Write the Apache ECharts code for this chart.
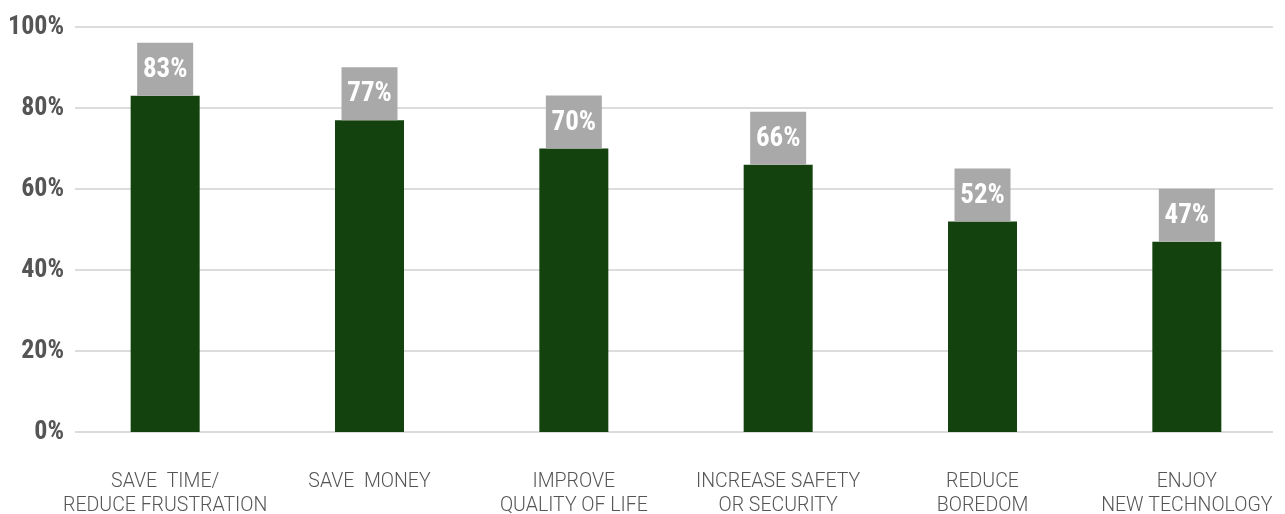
<!DOCTYPE html>
<html>
<head>
<meta charset="utf-8">
<script src="https://cdn.jsdelivr.net/npm/echarts@6/dist/echarts.min.js"></script>
<style>
  html, body { margin: 0; padding: 0; background: #fff; }
  #chart { width: 1285px; height: 514px; }
</style>
</head>
<body>
<div id="chart"></div>
<script>
// chart data
const categories = [
    "SAVE  TIME/\nREDUCE FRUSTRATION",
    "SAVE  MONEY",
    "IMPROVE\nQUALITY OF LIFE",
    "INCREASE SAFETY\nOR SECURITY",
    "REDUCE\nBOREDOM",
    "ENJOY\nNEW TECHNOLOGY"
];
const shares = [83, 77, 70, 66, 52, 47];
const yTicks = [0, 20, 40, 60, 80, 100];

const narrowFont = "'Liberation Sans Narrow', 'Roboto Condensed', 'Liberation Sans', sans-serif";

const chart = echarts.init(document.getElementById("chart"));

const gridTop = 27;
const gridBottom = 82;

const option = {
    animation: false,
    grid: [
        // grid for the y axis and the gridlines
        { left: 75, right: 12, top: gridTop, bottom: gridBottom, outerBoundsMode: "none" },
        // grid for the bars (categories run a bit wider than the lines)
        { left: 63, right: -4, top: gridTop, bottom: gridBottom, outerBoundsMode: "none" }
    ],
    xAxis: [
        { type: "category", gridIndex: 0, data: categories, show: false },
        {
            type: "category",
            gridIndex: 1,
            data: categories,
            axisLine: { show: false },
            axisTick: { show: false },
            axisLabel: {
                interval: 0,
                margin: 38,
                color: "#555",
                fontFamily: "Roboto",
                fontWeight: 300,
                fontSize: 19.5,
                lineHeight: 24
            }
        }
    ],
    yAxis: [
        {
            type: "value",
            gridIndex: 0,
            min: yTicks[0],
            max: yTicks[yTicks.length - 1],
            interval: 20,
            axisLine: { show: false },
            axisTick: { show: false },
            splitLine: { lineStyle: { color: "#dcdcdc", width: 2 } },
            axisLabel: {
                margin: 11,
                formatter: "{value}%",
                color: "#555",
                fontFamily: narrowFont,
                fontWeight: "bold",
                fontSize: 26
            }
        },
        {
            type: "value",
            gridIndex: 1,
            min: 0,
            max: 100,
            interval: 20,
            show: false
        }
    ],
    series: [
        {
            type: "bar",
            xAxisIndex: 1,
            yAxisIndex: 1,
            data: shares,
            barWidth: 69,
            itemStyle: { color: "#14420f" },
            label: {
                show: true,
                position: "top",
                distance: 0,
                formatter: "{c}%",
                color: "#fff",
                fontFamily: narrowFont,
                fontWeight: "bold",
                fontSize: 27,
                lineHeight: 27,
                width: 46,
                align: "center",
                backgroundColor: "#a9a9a9",
                padding: [14, 5, 12, 5]
            }
        }
    ]
};

chart.setOption(option);
</script>
</body>
</html>
